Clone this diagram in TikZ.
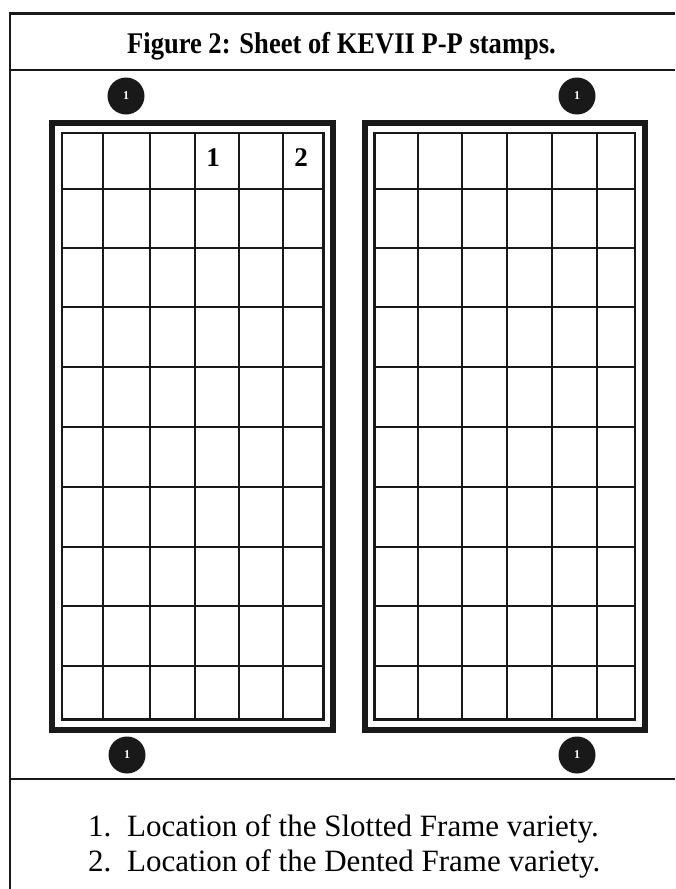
\documentclass[tikz,border=0pt]{standalone}
\usepackage{fontspec}
\setmainfont{Liberation Serif}
\begin{document}
\begin{tikzpicture}[x=1pt,y=-1pt,
  outerline/.style={line width=2.6pt,black!90},
  sepline/.style={line width=2.2pt,black!90},
  thickframe/.style={line width=6pt,black!90},
  thinframe/.style={line width=2.4pt,black!90},
  gridline/.style={line width=2pt,black!90},
  hole/.style={circle,fill=black!90,minimum size=37pt,inner sep=0pt,text=white,font=\bfseries\fontsize{12}{12}\selectfont},
  celllabel/.style={font=\bfseries\fontsize{27}{27}\selectfont},
  notetext/.style={anchor=base west,inner sep=0pt,font=\fontsize{31}{31}\selectfont}]
\useasboundingbox (0,0) rectangle (675,889);
\fill[white] (0,0) rectangle (675,889);
% outer frame
\coordinate (otl) at (10,13.5);
\coordinate (otr) at (675,13.5);
\coordinate (obl) at (10,889);
\draw[outerline] (obl) -- (otl) -- (otr);
\coordinate (s1l) at (10,70);
\coordinate (s1r) at (675,70);
\draw[sepline] (s1l) -- (s1r);
\coordinate (s2l) at (10,779);
\coordinate (s2r) at (675,779);
\draw[sepline] (s2l) -- (s2r);
% title
\node[font=\bfseries\fontsize{30}{30}\selectfont,anchor=base,xscale=0.885] (title) at (341.5,53) {Figure 2: Sheet of KEVII P-P stamps.};
% left panel
\draw[thickframe] (52,122.5) rectangle (333,729.5);
\draw[thinframe] (62,133) rectangle (323.3,719.5);
\foreach \xx in {103,149.5,194.5,239,283}
  \draw[gridline] (\xx,133) -- (\xx,719.5);
\foreach \yy in {188.5,247.5,307,367,427,487,546.5,606,666}
  \draw[gridline] (62,\yy) -- (323.3,\yy);
% right panel
\draw[thickframe] (364.7,122.5) rectangle (645.3,729.5);
\draw[thinframe] (374.3,133) rectangle (635,719.5);
\foreach \xx in {417.5,462,506.5,552,596.5}
  \draw[gridline] (\xx,133) -- (\xx,719.5);
\foreach \yy in {188.5,247.5,307,367,427,487,546.5,606,666}
  \draw[gridline] (374.3,\yy) -- (635,\yy);
% cell labels
\node[celllabel] (c1) at (213,158) {1};
\node[celllabel] (c2) at (301,158) {2};
% holes
\node[hole] (h1) at (126,96) {1};
\node[hole] (h2) at (577,96) {1};
\node[hole] (h3) at (127,755) {1};
\node[hole] (h4) at (577,755) {1};
% notes
\node[notetext] (n1a) at (88,836) {1.};
\node[notetext] (n1b) at (127,836) {Location of the Slotted Frame variety.};
\node[notetext] (n2a) at (88,871) {2.};
\node[notetext] (n2b) at (127,871) {Location of the Dented Frame variety.};
\end{tikzpicture}
\end{document}
